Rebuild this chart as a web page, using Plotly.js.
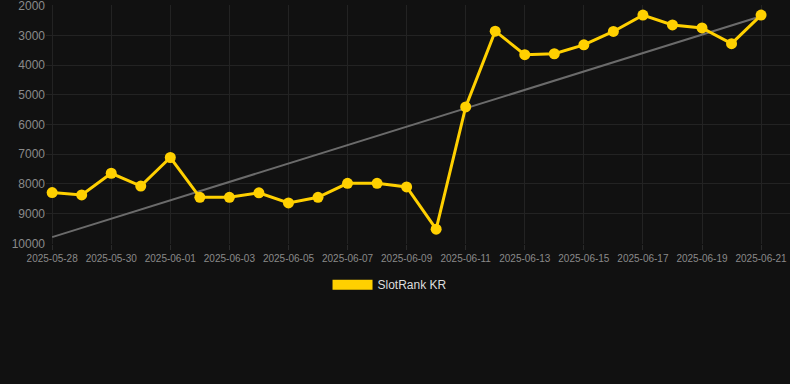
<!DOCTYPE html>
<html><head><meta charset="utf-8">
<script src="https://cdn.plot.ly/plotly-3.0.1.min.js"></script>
<style>html,body{margin:0;padding:0;background:#111111;}#chart{width:790px;height:384px;}</style>
</head><body><div id="chart"></div>
<script>
const dates = ["2025-05-28","2025-05-29","2025-05-30","2025-05-31","2025-06-01","2025-06-02","2025-06-03","2025-06-04","2025-06-05","2025-06-06","2025-06-07","2025-06-08","2025-06-09","2025-06-10","2025-06-11","2025-06-12","2025-06-13","2025-06-14","2025-06-15","2025-06-16","2025-06-17","2025-06-18","2025-06-19","2025-06-20","2025-06-21"];
const ranks = [8290,8370,7640,8070,7110,8450,8450,8300,8640,8450,7980,7980,8100,9520,5410,2860,3650,3620,3320,2870,2320,2650,2750,3280,2320];
const trendDates = ["2025-05-28","2025-06-21"];
const trendValues = [9790,2360];
const seriesName = "SlotRank KR";

const traces = [
  {x: trendDates, y: trendValues, type: "scatter", mode: "lines", line: {color: "#6b6b6b", width: 2}, showlegend: false, hoverinfo: "skip"},
  {x: dates, y: ranks, type: "scatter", mode: "lines+markers", name: seriesName, line: {color: "#FFD000", width: 3}, marker: {color: "#FFD000", size: 11}, showlegend: false},
  {x: [null], y: [null], type: "scatter", mode: "lines", name: seriesName, line: {color: "#FFD000", width: 11}, showlegend: true}
];
const layout = {
  width: 790, height: 384,
  paper_bgcolor: "#111111", plot_bgcolor: "#111111",
  margin: {l: 46, r: 0, t: 5, b: 140},
  font: {family: "Liberation Sans, Arial, sans-serif", color: "#888888"},
  xaxis: {type: "date", range: ["2025-05-27 19:00", "2025-06-21 23:30"], dtick: 2*86400000, tick0: "2025-05-28", tickformat: "%Y-%m-%d", tickangle: 0, tickfont: {size: 10, color: "#8a8a8a"}, gridcolor: "#232323", showline: false, zeroline: false, ticks: "outside", ticklen: 5, tickcolor: "#2a2a2a"},
  yaxis: {range: [10020, 1980], tickvals: [2000,3000,4000,5000,6000,7000,8000,9000,10000], ticklabeloverflow: "allow", tickfont: {size: 12, color: "#8a8a8a"}, gridcolor: "#232323", zeroline: false, showline: false, ticks: "", tickformat: "d"},
  showlegend: true,
  legend: {orientation: "h", x: 0.4624, xanchor: "center", y: -0.11, yanchor: "top", font: {size: 12, color: "#dddddd"}, itemwidth: 40, bgcolor: "rgba(0,0,0,0)"}
};
Plotly.newPlot("chart", traces, layout, {displayModeBar: false, staticPlot: true});
</script></body></html>
